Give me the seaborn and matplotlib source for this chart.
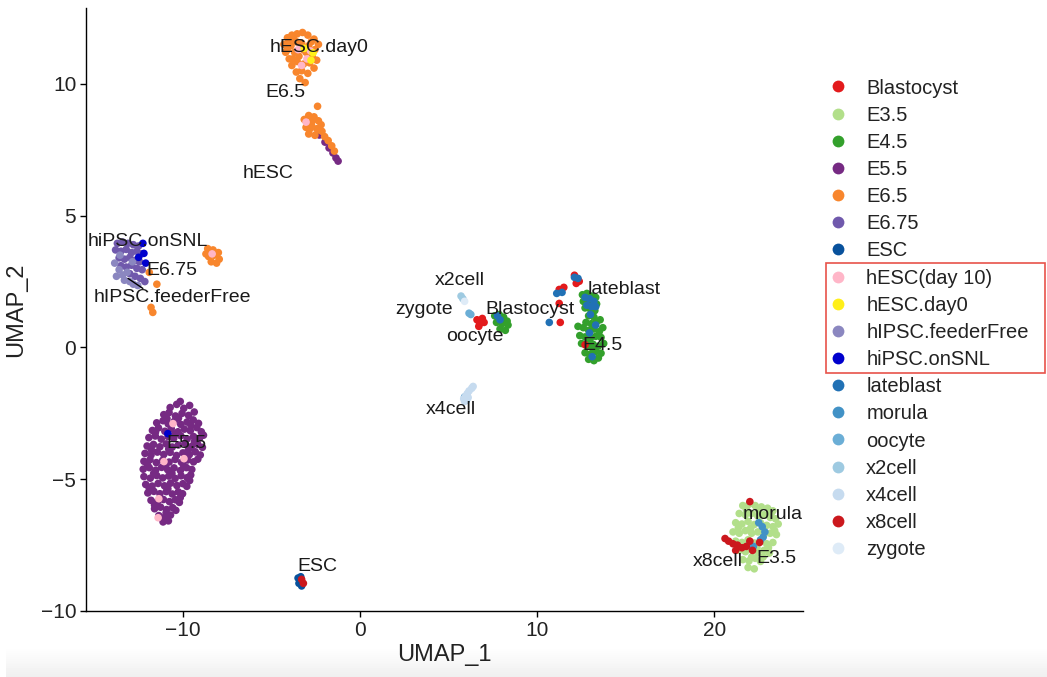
import numpy as np
import pandas as pd
import matplotlib
matplotlib.use("Agg")
import matplotlib.pyplot as plt
from matplotlib.lines import Line2D
from matplotlib.patches import Rectangle
import seaborn as sns

# ---------------------------------------------------------------- data
categories = ["Blastocyst", "E3.5", "E4.5", "E5.5", "E6.5", "E6.75", "ESC",
              "hESC(day 10)", "hESC.day0", "hIPSC.feederFree", "hiPSC.onSNL",
              "lateblast", "morula", "oocyte", "x2cell", "x4cell", "x8cell", "zygote"]
colors = ["#E31A1C", "#B2DF8A", "#33A02C", "#762A83", "#F8862D", "#7059AC", "#08519C",
          "#FFB6C8", "#FFEF1A", "#8B87C0", "#0000CD",
          "#2171B5", "#4292C6", "#6BAED6", "#9ECAE1", "#C6DBEF", "#CB181D", "#DEEBF7"]

e35_pts = [(21.6, -6.0), (21.95, -5.95), (22.3, -6.0), (22.65, -6.05), (23.0, -6.1), (23.3, -6.2),
           (21.4, -6.3), (21.75, -6.35), (22.1, -6.3), (22.45, -6.4), (22.8, -6.35), (23.15, -6.45), (23.45, -6.5),
           (21.2, -6.65), (21.55, -6.7), (21.9, -6.6), (22.25, -6.72), (22.6, -6.65), (22.95, -6.75), (23.3, -6.8), (23.6, -6.7),
           (21.05, -7.0), (21.4, -7.05), (21.75, -6.95), (22.1, -7.05), (22.45, -7.0), (22.8, -7.1), (23.15, -7.05), (23.5, -7.1),
           (21.2, -7.35), (21.55, -7.4), (21.9, -7.3), (22.25, -7.42), (22.6, -7.35), (22.95, -7.45), (23.3, -7.4),
           (21.4, -7.7), (21.75, -7.75), (22.1, -7.65), (22.45, -7.78), (22.8, -7.7), (23.1, -7.8),
           (21.6, -8.05), (21.95, -8.1), (22.3, -8.0), (22.6, -8.12), (21.9, -8.35), (22.25, -8.4),
           (21.8, -6.15), (22.5, -6.2), (23.2, -6.3), (21.35, -6.85), (22.05, -6.85), (22.75, -6.9),
           (23.4, -6.95), (21.7, -7.55), (22.4, -7.6), (23.05, -7.6), (22.1, -7.95), (22.75, -7.95)]

e55_pts = [(-10.72, -2.28), (-10.35, -2.16), (-9.95, -2.31), (-9.62, -2.20), (-10.15, -2.05),
           (-11.08, -2.55), (-10.78, -2.47), (-10.42, -2.6), (-10.05, -2.5), (-9.68, -2.58), (-9.36, -2.45),
           (-11.48, -2.86), (-11.12, -2.78), (-10.83, -2.9), (-10.48, -2.8), (-10.12, -2.92), (-9.77, -2.83), (-9.42, -2.75), (-9.12, -2.88),
           (-11.72, -3.15), (-11.38, -3.05), (-11.02, -3.18), (-10.66, -3.08), (-10.28, -3.2), (-9.92, -3.1), (-9.58, -3.16), (-9.22, -3.04), (-8.96, -3.2),
           (-11.92, -3.42), (-11.56, -3.36), (-11.22, -3.48), (-10.84, -3.38), (-10.52, -3.45), (-10.12, -3.35), (-9.76, -3.47), (-9.4, -3.38), (-9.06, -3.44), (-8.84, -3.33),
           (-12.02, -3.74), (-11.66, -3.68), (-11.3, -3.77), (-10.94, -3.66), (-10.6, -3.78), (-10.26, -3.7), (-9.88, -3.64), (-9.52, -3.76), (-9.16, -3.68), (-8.9, -3.79),
           (-12.14, -4.02), (-11.8, -4.08), (-11.44, -3.97), (-11.08, -4.06), (-10.72, -3.98), (-10.36, -4.1), (-10.0, -4.0), (-9.64, -4.07), (-9.3, -3.96), (-9.02, -4.08),
           (-12.2, -4.32), (-11.86, -4.26), (-11.5, -4.37), (-11.14, -4.28), (-10.78, -4.35), (-10.44, -4.25), (-10.08, -4.36), (-9.74, -4.27), (-9.4, -4.34), (-9.16, -4.24),
           (-12.24, -4.62), (-11.9, -4.56), (-11.54, -4.66), (-11.2, -4.55), (-10.86, -4.64), (-10.5, -4.57), (-10.14, -4.67), (-9.8, -4.56), (-9.5, -4.63),
           (-12.2, -4.9), (-11.84, -4.96), (-11.48, -4.86), (-11.14, -4.95), (-10.8, -4.88), (-10.44, -4.97), (-10.1, -4.87), (-9.76, -4.94), (-9.56, -4.84),
           (-12.1, -5.2), (-11.74, -5.26), (-11.4, -5.16), (-11.04, -5.25), (-10.7, -5.15), (-10.34, -5.24), (-10.0, -5.17), (-9.78, -5.27),
           (-11.98, -5.52), (-11.64, -5.46), (-11.3, -5.55), (-10.94, -5.47), (-10.6, -5.56), (-10.26, -5.48), (-10.02, -5.55),
           (-11.8, -5.8), (-11.44, -5.86), (-11.1, -5.77), (-10.76, -5.85), (-10.42, -5.78), (-10.2, -5.88),
           (-11.6, -6.12), (-11.26, -6.06), (-10.92, -6.15), (-10.58, -6.08), (-10.4, -6.18),
           (-11.36, -6.38), (-11.02, -6.44), (-10.7, -6.36), (-11.12, -6.62), (-10.82, -6.58),
           (-10.9, -2.7), (-10.25, -2.68), (-9.55, -2.95), (-11.55, -3.22), (-10.45, -3.28), (-9.35, -3.58),
           (-11.78, -3.88), (-10.8, -3.86), (-9.7, -3.9), (-12.0, -4.45), (-11.0, -4.48), (-9.95, -4.5),
           (-11.65, -4.78), (-10.62, -4.78), (-9.62, -5.05), (-11.9, -5.35), (-10.85, -5.36), (-10.15, -5.7),
           (-11.6, -5.98), (-10.95, -6.28),
           # tail below the hESC group
           (-2.3, 8.06), (-1.98, 7.79), (-1.75, 7.57), (-1.53, 7.38), (-1.36, 7.19), (-1.24, 7.07)]

e65_pts = [(-4.3, 11.5), (-4.1, 11.75), (-3.85, 11.85), (-3.55, 11.9), (-3.25, 11.95), (-2.95, 11.85), (-2.6, 11.7), (-2.35, 11.5),
           (-4.2, 11.2), (-3.9, 11.45), (-3.6, 11.6), (-3.3, 11.55), (-2.9, 11.45), (-2.55, 11.3),
           (-4.0, 10.95), (-3.7, 11.2), (-3.45, 11.05), (-3.05, 11.2), (-2.7, 11.05), (-2.45, 10.9),
           (-3.85, 10.7), (-3.55, 10.85), (-3.2, 10.75), (-2.85, 10.8), (-2.6, 10.6),
           (-3.6, 10.45), (-3.3, 10.5), (-2.95, 10.4), (-3.4, 10.2), (-3.1, 10.05),
           (-4.05, 11.55), (-3.75, 11.7), (-2.75, 11.6), (-4.1, 11.3), (-3.2, 11.3), (-3.8, 10.95),
           (-2.4, 9.15),
           (-3.15, 8.65), (-2.9, 8.8), (-2.6, 8.75), (-2.35, 8.6), (-3.05, 8.35), (-2.75, 8.45), (-2.45, 8.3),
           (-2.2, 8.45), (-2.9, 8.1), (-2.55, 8.05), (-2.15, 8.2), (-2.0, 8.0), (-1.8, 7.85), (-1.6, 7.65),
           (-1.45, 7.45), (-2.7, 8.6), (-2.85, 8.28), (-2.3, 8.25),
           (-11.9, 2.85), (-11.47, 2.4), (-11.8, 1.52), (-11.7, 1.33),
           (-8.6, 3.75), (-8.3, 3.7), (-8.0, 3.6), (-8.55, 3.45), (-8.25, 3.5), (-7.95, 3.35), (-8.4, 3.25),
           (-8.1, 3.2), (-8.7, 3.55)]

e675_pts = [(-13.7, 3.95), (-13.4, 4.0), (-13.1, 3.95), (-12.8, 3.9), (-12.5, 3.85),
            (-13.8, 3.7), (-13.5, 3.65), (-13.2, 3.72), (-12.9, 3.6), (-12.6, 3.65), (-12.35, 3.55),
            (-13.6, 3.4), (-13.3, 3.35), (-13.0, 3.42), (-12.7, 3.3), (-12.45, 3.25),
            (-13.5, 3.1), (-13.2, 3.05), (-12.9, 3.12), (-12.6, 3.0), (-12.3, 2.95),
            (-13.0, 2.8), (-12.7, 2.7), (-12.4, 2.62), (-12.15, 2.5)]

e45_pts = [(7.6, 1.2), (7.85, 1.25), (8.1, 1.15), (7.7, 0.95), (8.0, 0.9), (8.3, 1.0), (7.9, 0.7), (8.2, 0.65), (8.35, 0.85),
           (12.55, 2.0), (12.8, 2.05), (13.05, 1.95), (13.3, 1.9), (12.6, 1.75), (12.85, 1.7), (13.1, 1.8), (13.35, 1.65),
           (12.7, 1.5), (13.0, 1.45), (13.25, 1.4),
           (12.9, 1.2), (13.2, 1.15), (12.75, 0.95), (13.05, 0.9), (13.35, 0.98), (13.55, 1.05),
           (12.3, 0.8), (12.6, 0.75), (12.9, 0.65), (13.2, 0.7), (13.5, 0.6), (13.7, 0.75),
           (12.4, 0.45), (12.7, 0.4), (13.0, 0.35), (13.3, 0.42), (13.6, 0.38),
           (12.5, 0.15), (12.85, 0.05), (13.15, 0.12), (13.45, 0.05), (13.75, 0.15),
           (12.7, -0.2), (13.0, -0.25), (13.3, -0.15), (13.6, -0.22), (12.9, -0.45), (13.2, -0.5),
           (13.45, -0.4), (13.15, -0.05), (12.95, 0.22)]

feederfree_pts = [(-13.85, 3.2), (-13.6, 2.95), (-13.75, 2.7), (-13.4, 2.75), (-13.15, 2.85), (-13.3, 2.55),
                  (-13.0, 2.5), (-12.8, 2.4), (-12.55, 2.35), (-13.55, 3.5), (-12.85, 3.25)]
esc_pts = [(-3.5, -8.75), (-3.35, -8.7), (-3.45, -8.95), (-3.3, -9.05), (-3.4, -8.85)]
blastocyst_pts = [(6.6, 1.05), (6.75, 0.9), (6.9, 1.1), (7.0, 0.95), (6.7, 0.8),
                  (12.1, 2.74), (12.2, 2.43), (12.37, 2.51), (11.24, 2.2), (11.5, 2.28),
                  (11.24, 1.67), (11.3, 0.95), (12.7, 0.1)]
lateblast_pts = [(7.75, 1.2), (7.9, 1.05), (12.3, 2.62), (12.1, 2.66), (11.4, 2.09), (11.1, 2.05), (10.68, 0.95),
                 (12.7, 1.9), (12.95, 1.85), (13.2, 1.75), (12.8, 1.6), (13.05, 1.55), (13.3, 1.55),
                 (13.0, 1.25), (13.3, 0.85), (12.95, 0.55), (13.1, -0.35)]
morula_pts = [(22.5, -6.65), (22.7, -6.8), (22.85, -7.0), (22.75, -7.2), (22.6, -7.3), (22.2, -7.55), (21.95, -7.5),
              (5.9, -1.88), (6.0, -2.0)]
x8cell_pts = [(20.6, -7.25), (20.8, -7.35), (21.05, -7.45), (21.3, -7.5), (21.2, -7.7), (21.55, -7.6), (21.8, -7.55),
              (22.0, -7.35), (22.15, -7.7), (22.55, -7.4), (22.0, -5.85), (-3.3, -8.8), (-3.2, -8.95)]
hesc_d10_pts = [(-3.5, 11.3), (-3.0, 10.95), (-3.3, 10.7), (-2.8, 11.25), (-3.05, 8.55), (-8.35, 3.55),
                (-10.56, -2.89), (-9.94, -4.22), (-11.36, -5.74), (-11.4, -6.46), (-11.07, -4.33)]
hesc_d0_pts = [(-2.77, 10.9), (-2.65, 11.18), (-3.15, 11.35)]
onsnl_pts = [(-12.26, 3.95), (-12.5, 3.42), (-12.2, 3.57), (-12.1, 3.2), (-10.85, -3.27)]
oocyte_pts = [(6.15, 1.3), (6.25, 1.25)]
x2cell_pts = [(5.7, 1.95), (5.8, 1.85)]
x4cell_pts = [(5.85, -1.95), (5.95, -1.85), (6.05, -1.75), (6.15, -1.65), (6.3, -1.55), (6.38, -1.48),
              (5.9, -2.05), (6.1, -1.9)]
zygote_pts = [(5.9, 1.75)]

# drawing order (later groups sit on top)
draw_order = [("E3.5", e35_pts), ("E5.5", e55_pts), ("E6.5", e65_pts), ("E6.75", e675_pts),
              ("E4.5", e45_pts), ("hIPSC.feederFree", feederfree_pts), ("ESC", esc_pts),
              ("Blastocyst", blastocyst_pts), ("lateblast", lateblast_pts), ("morula", morula_pts),
              ("x8cell", x8cell_pts), ("hESC(day 10)", hesc_d10_pts), ("hESC.day0", hesc_d0_pts),
              ("hiPSC.onSNL", onsnl_pts), ("oocyte", oocyte_pts), ("x2cell", x2cell_pts),
              ("x4cell", x4cell_pts), ("zygote", zygote_pts)]

label_text = ["hESC.day0", "E6.5", "hESC", "hiPSC.onSNL", "E6.75", "hIPSC.feederFree", "E5.5", "ESC",
              "x2cell", "zygote", "Blastocyst", "oocyte", "lateblast", "E4.5", "x4cell",
              "morula", "E3.5", "x8cell"]
label_x = [-2.3, -4.2, -5.2, -12.0, -10.6, -10.6, -9.8, -2.4, 5.65, 3.6, 9.6, 6.5, 14.9, 13.7, 5.1,
           23.3, 23.5, 20.2]
label_y = [11.4, 9.66, 6.6, 4.03, 2.93, 1.9, -3.65, -8.3, 2.55, 1.44, 1.44, 0.42, 2.2, 0.08, -2.36,
           -6.35, -8.0, -8.14]
# repel segment joining the feederFree label to its cells
leader_from = (-13.1, 2.62)
leader_to = (-12.26, 2.24)

rows = []
for cat, pts in draw_order:
    for (x, y) in pts:
        rows.append((cat, x, y))
df = pd.DataFrame(rows, columns=["cell_type", "UMAP_1", "UMAP_2"])
palette = dict(zip(categories, colors))

# ---------------------------------------------------------------- plot
sns.set_theme(style="ticks")
plt.rcParams["font.family"] = ["Liberation Sans", "DejaVu Sans"]

fig = plt.figure(figsize=(10.47, 6.77), dpi=100)
ax = fig.add_axes([86 / 1047, 1 - 611 / 677, (803 - 86) / 1047, (611 - 8) / 677])

sns.scatterplot(data=df, x="UMAP_1", y="UMAP_2", hue="cell_type", palette=palette,
                s=30, linewidth=0, legend=False, ax=ax, zorder=2)

for t, x, y in zip(label_text, label_x, label_y):
    ax.text(x, y, t, ha="center", va="center", fontsize=14, color="#1a1a1a", zorder=4)
ax.annotate("", xy=leader_to, xytext=leader_from,
            arrowprops=dict(arrowstyle="-", lw=1.0, color="black", shrinkA=0, shrinkB=0), zorder=3)

ax.set_xlim(-15.47, 25.0)
ax.set_ylim(-10.0, 12.88)
ax.set_xticks([-10, 0, 10, 20])
ax.set_yticks([-10, -5, 0, 5, 10])
ax.tick_params(axis="both", direction="out", length=4, width=1.0, color="black",
               labelsize=15, labelcolor="#222222", pad=3)
for side in ["left", "bottom"]:
    ax.spines[side].set_linewidth(1.0)
    ax.spines[side].set_color("black")
sns.despine(ax=ax)
ax.set_xlabel("UMAP_1", fontsize=17, color="#222222", labelpad=3)
ax.set_ylabel("UMAP_2", fontsize=17, color="#222222", labelpad=10)

handles = [Line2D([0], [0], marker="o", linestyle="", markersize=8.5, markeredgewidth=0,
                  markerfacecolor=c) for c in colors]
leg = fig.legend(handles, categories, loc="upper left", bbox_to_anchor=(828 / 1047, 1 - 78.5 / 677),
                 frameon=False, fontsize=14.5, labelspacing=0.405, handlelength=1.0,
                 handletextpad=0.9, borderpad=0, borderaxespad=0)
for txt in leg.get_texts():
    txt.set_color("#222222")

# highlight box around the four stem-cell line entries
fig.patches.append(Rectangle((826 / 1047, 1 - 373 / 677), (1045 - 826) / 1047, (373 - 263) / 677,
                             transform=fig.transFigure, fill=False, edgecolor="#E8534A", lw=1.2))

# pale strip along the bottom edge
band = fig.add_axes([6 / 1047, 0, 1 - 6 / 1047, 30 / 677], zorder=-5)
band.imshow(np.linspace(1.0, 0.94, 30).reshape(-1, 1), aspect="auto", cmap="gray",
            vmin=0, vmax=1, extent=(0, 1, 0, 1), origin="upper")
band.set_axis_off()

fig.savefig("out.png", dpi=100)
